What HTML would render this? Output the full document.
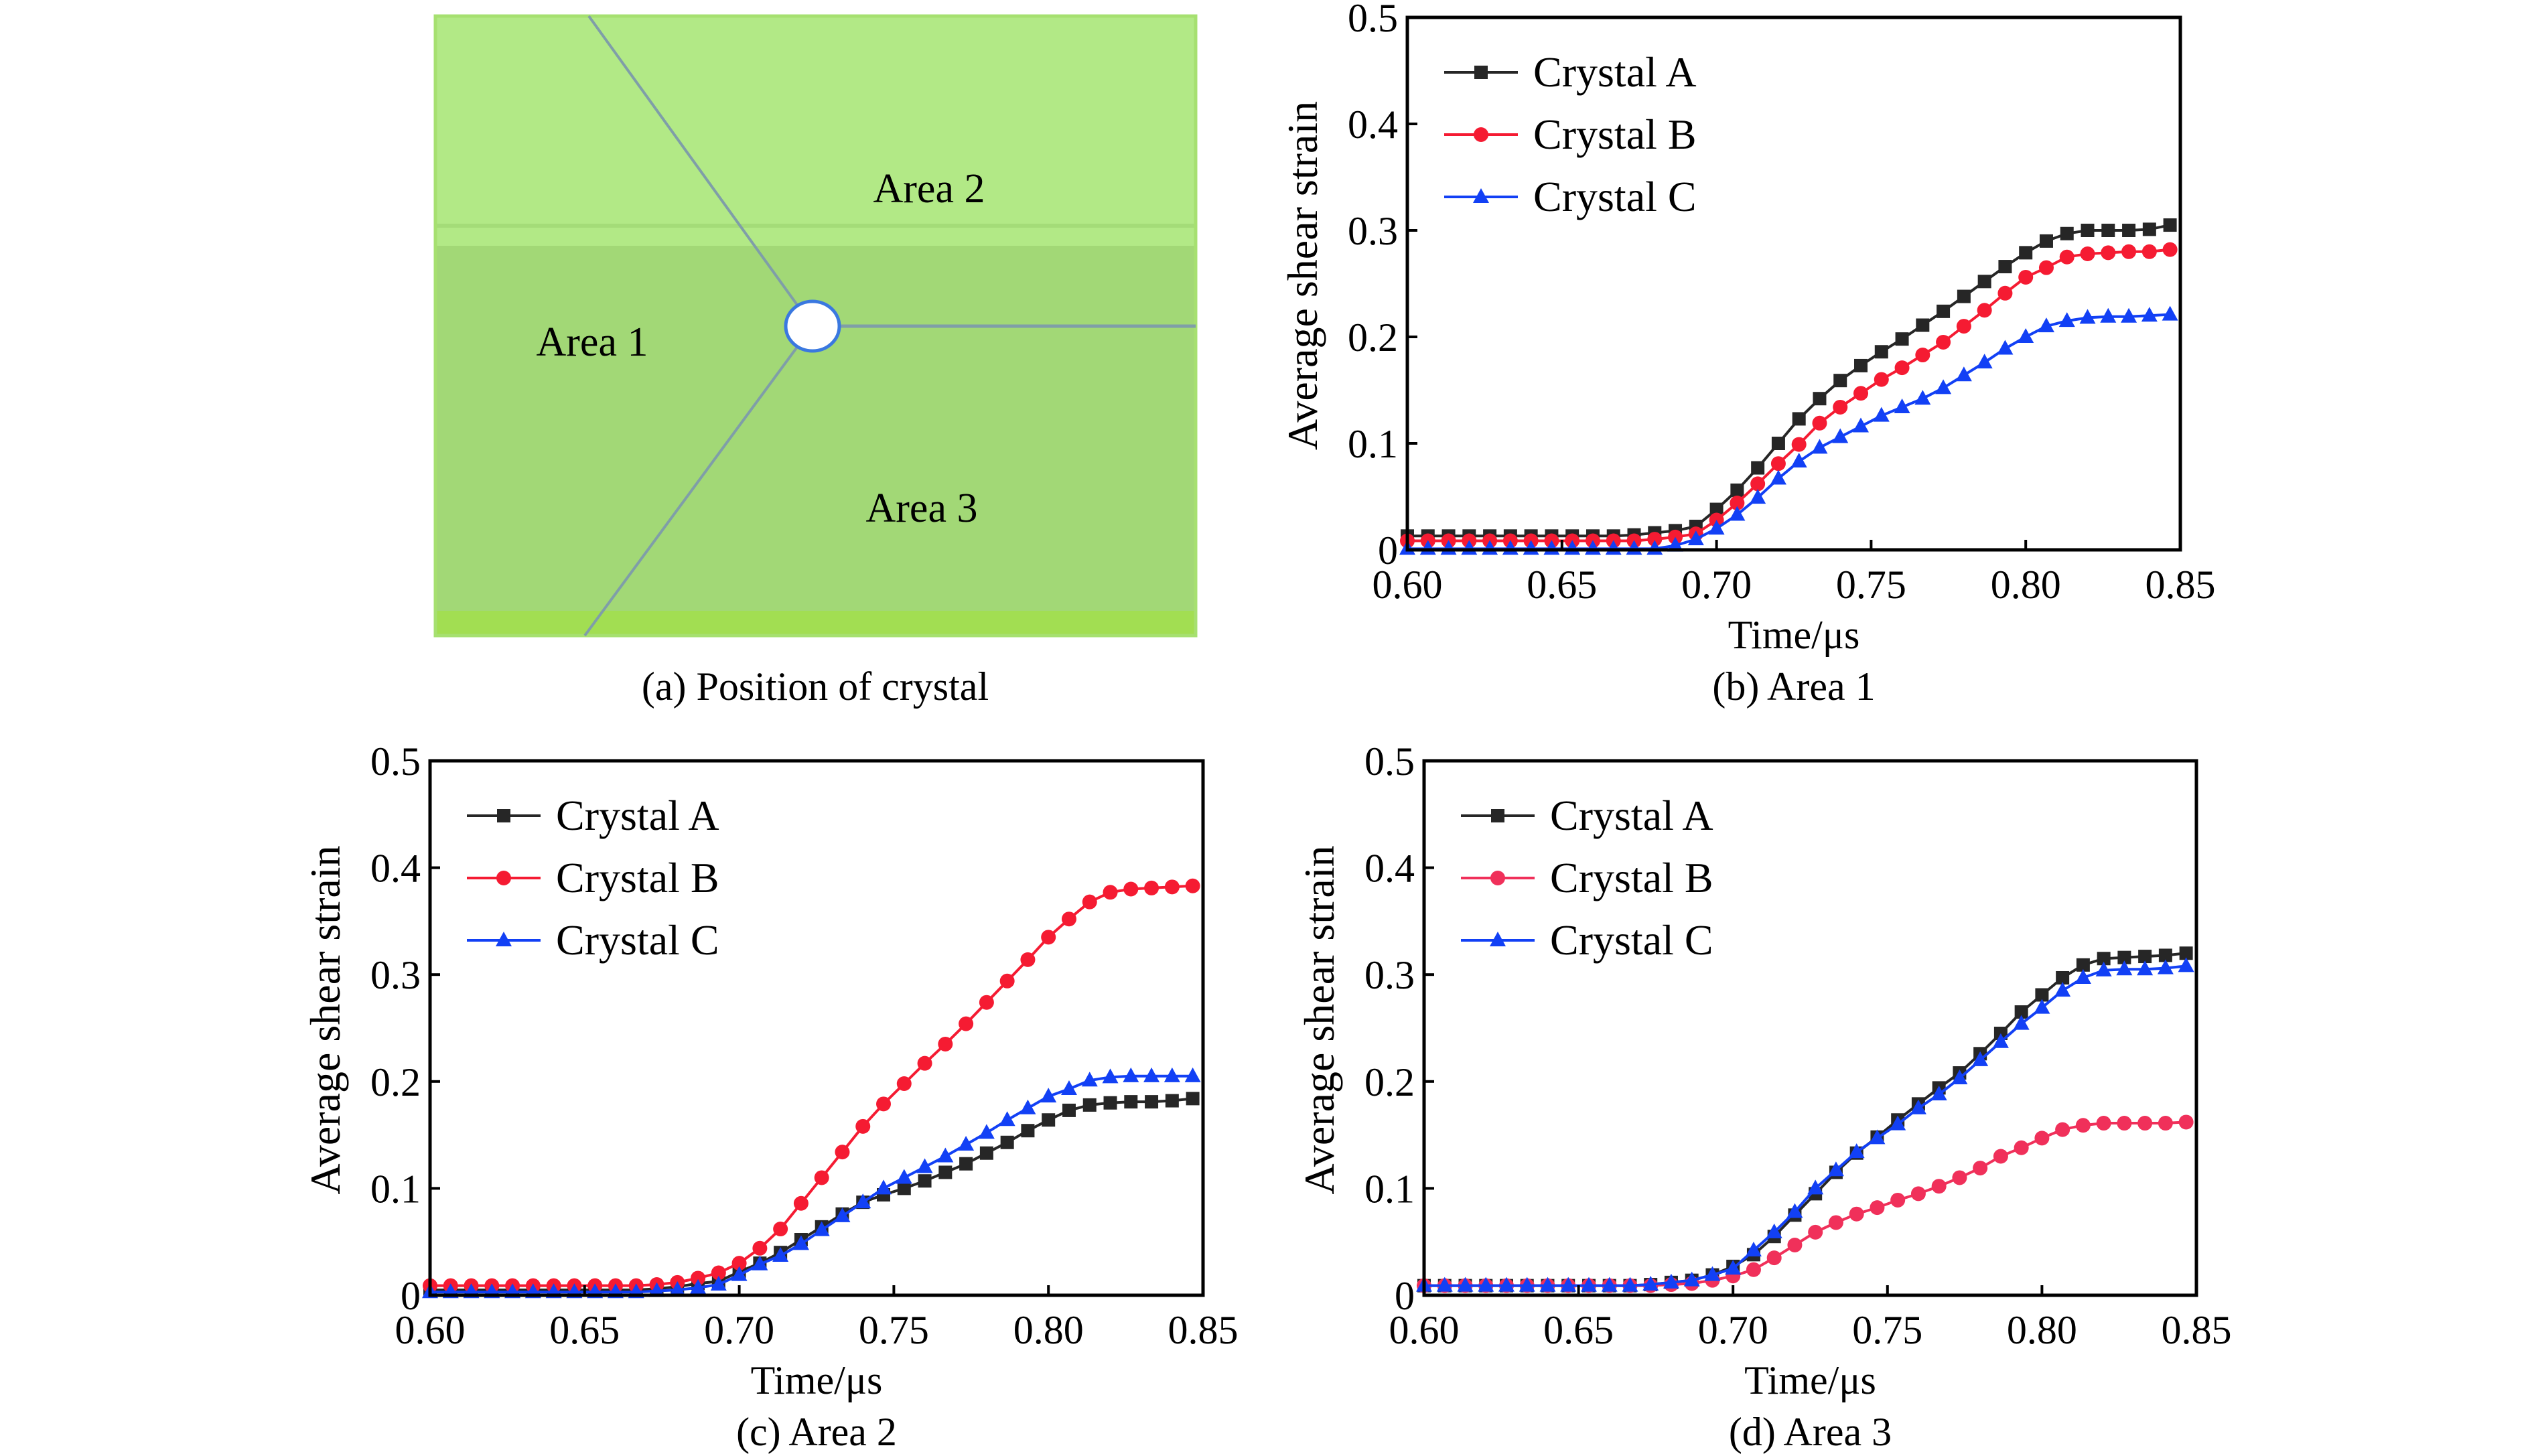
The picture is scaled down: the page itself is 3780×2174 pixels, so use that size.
<!DOCTYPE html>
<html><head><meta charset="utf-8">
<style>
html,body{margin:0;padding:0;background:#fff;}
svg{display:block;font-family:"Liberation Serif","Times New Roman",serif;}
svg text{font-family:"Liberation Serif","Times New Roman",serif;}
</style></head>
<body>
<svg id="fig" width="3780" height="2174" viewBox="0 0 3780 2174" xmlns="http://www.w3.org/2000/svg" font-family="Liberation Serif, serif">
  <g>
    <rect x="650" y="24" width="1135" height="925" fill="#a2d876"/>
    <rect x="650" y="24" width="1135" height="343" fill="#b2e986"/>
    <rect x="650" y="334" width="1135" height="6" fill="#a4dc78"/>
    <rect x="650" y="912" width="1135" height="37" fill="#a2de52"/>
    <rect x="650" y="24" width="1135" height="925" fill="none" stroke="#a6e070" stroke-width="5"/>
    <line x1="879" y1="24" x2="1213" y2="487" stroke="#7f9ea8" stroke-width="4"/>
    <line x1="873" y1="949" x2="1213" y2="487" stroke="#7f9ea8" stroke-width="4"/>
    <line x1="1213" y1="487" x2="1785" y2="487" stroke="#7f9ea8" stroke-width="5"/>
    <ellipse cx="1213" cy="487" rx="40" ry="37" fill="#fff" stroke="#3a78e0" stroke-width="5"/>
    <text x="1387" y="302" font-size="62" text-anchor="middle">Area 2</text>
    <text x="884" y="531" font-size="62" text-anchor="middle">Area 1</text>
    <text x="1376" y="779" font-size="62" text-anchor="middle">Area 3</text>
    <text x="1217" y="1045" font-size="60" text-anchor="middle">(a) Position of crystal</text>
  </g>
</svg>
<script>
const sampleCount = 38;
const xTicks = [0.60, 0.65, 0.70, 0.75, 0.80, 0.85];
const xTickLabels = ["0.60", "0.65", "0.70", "0.75", "0.80", "0.85"];
const yTicks = [0, 0.1, 0.2, 0.3, 0.4, 0.5];
const yTickLabels = ["0", "0.1", "0.2", "0.3", "0.4", "0.5"];
const seriesNames = ["Crystal A", "Crystal B", "Crystal C"];

const area1A = [0.013,0.013,0.013,0.013,0.013,0.013,0.013,0.013,0.013,0.013,0.013,0.014,0.016,0.018,0.022,0.038,0.056,0.077,0.100,0.123,0.142,0.159,0.173,0.186,0.198,0.211,0.224,0.238,0.252,0.266,0.279,0.290,0.297,0.300,0.300,0.300,0.301,0.305];
const area1B = [0.0085,0.0085,0.0085,0.0085,0.0085,0.0085,0.0085,0.0085,0.0085,0.0085,0.0085,0.0085,0.010,0.012,0.015,0.028,0.044,0.062,0.081,0.099,0.119,0.134,0.147,0.160,0.171,0.183,0.195,0.210,0.225,0.241,0.256,0.265,0.275,0.278,0.279,0.280,0.280,0.282];
const area1C = [0.001,0.001,0.001,0.001,0.001,0.001,0.001,0.001,0.001,0.001,0.001,0.001,0.001,0.004,0.010,0.020,0.033,0.049,0.067,0.083,0.096,0.106,0.116,0.126,0.134,0.142,0.152,0.164,0.176,0.189,0.200,0.210,0.215,0.218,0.219,0.219,0.220,0.221];
const area2A = [0.005,0.005,0.005,0.005,0.005,0.005,0.005,0.005,0.005,0.005,0.005,0.006,0.008,0.011,0.013,0.022,0.030,0.040,0.052,0.064,0.076,0.087,0.094,0.100,0.107,0.115,0.123,0.133,0.143,0.154,0.164,0.173,0.178,0.180,0.181,0.181,0.182,0.184];
const area2B = [0.009,0.009,0.009,0.009,0.009,0.009,0.009,0.009,0.009,0.009,0.009,0.010,0.012,0.016,0.021,0.030,0.044,0.062,0.086,0.110,0.134,0.158,0.179,0.198,0.217,0.235,0.254,0.274,0.294,0.314,0.335,0.352,0.368,0.377,0.380,0.381,0.382,0.383];
const area2C = [0.003,0.003,0.003,0.003,0.003,0.003,0.003,0.003,0.003,0.003,0.003,0.004,0.005,0.007,0.010,0.019,0.029,0.037,0.048,0.061,0.074,0.087,0.100,0.110,0.120,0.130,0.141,0.152,0.164,0.175,0.186,0.193,0.201,0.204,0.205,0.205,0.205,0.205];
const area3A = [0.009,0.009,0.009,0.009,0.009,0.009,0.009,0.009,0.009,0.009,0.009,0.010,0.012,0.014,0.019,0.027,0.038,0.055,0.075,0.095,0.115,0.133,0.148,0.164,0.179,0.194,0.208,0.226,0.245,0.265,0.281,0.297,0.309,0.315,0.316,0.317,0.318,0.320];
const area3B = [0.009,0.009,0.009,0.009,0.009,0.009,0.009,0.009,0.009,0.009,0.009,0.009,0.010,0.011,0.014,0.018,0.024,0.035,0.047,0.059,0.068,0.076,0.082,0.089,0.095,0.102,0.110,0.119,0.130,0.138,0.147,0.155,0.159,0.161,0.161,0.161,0.161,0.162];
const area3C = [0.009,0.009,0.009,0.009,0.009,0.009,0.009,0.009,0.009,0.009,0.009,0.010,0.012,0.014,0.019,0.025,0.042,0.059,0.078,0.100,0.117,0.134,0.147,0.160,0.175,0.188,0.203,0.220,0.237,0.254,0.269,0.285,0.297,0.304,0.305,0.305,0.306,0.308];

const NS = "http://www.w3.org/2000/svg";
const svg = document.getElementById('fig');
function mk(tag, attrs, parent){
  const e = document.createElementNS(NS, tag);
  for (const k in attrs) e.setAttribute(k, attrs[k]);
  (parent || svg).appendChild(e);
  return e;
}
const colors = ["#262626", "#f51b32", "#1240f5"];

function marker(g, kind, x, y, color){
  let m;
  if (kind === 0) m = mk('rect', {x:x-10, y:y-10, width:20, height:20, fill:color}, g);
  else if (kind === 1) m = mk('circle', {cx:x, cy:y, r:11, fill:color}, g);
  else m = mk('polygon', {points:`${x},${y-13} ${x-12},${y+9} ${x+12},${y+9}`, fill:color}, g);
  
  
}

function drawPanel(p){
  const g = mk('g', {});
  
  
  const X = v => p.L + (v - 0.6) / 0.25 * (p.R - p.L);
  const Y = v => p.B - v / 0.5 * (p.B - p.T);
  const cols = p.colors || colors;
  p.series.forEach((vals, s) => {
    const sg = mk('g', {}, g);
    
    
    const pts = vals.map((v, i) => X(0.6 + i / 150).toFixed(1) + ',' + Y(v).toFixed(1)).join(' ');
    const pl = mk('polyline', {points: pts, fill: 'none', stroke: cols[s], 'stroke-width': 4}, sg);
    
    
    vals.forEach((v, i) => marker(sg, s, X(0.6 + i / 150), Y(v), cols[s]));
  });
  const fr = mk('rect', {x:p.L, y:p.T, width:p.R-p.L, height:p.B-p.T, fill:'none', stroke:'#000', 'stroke-width':5}, g);
  
  
  xTicks.forEach((t, i) => {
    const tk = mk('line', {x1:X(t), x2:X(t), y1:p.B, y2:p.B-15, stroke:'#000', 'stroke-width':4}, g);
    
    
    const tl = mk('text', {x:X(t), y:p.B+72, 'font-size':60, 'text-anchor':'middle'}, g);
    tl.textContent = xTickLabels[i];
    
    
  });
  yTicks.forEach((t, i) => {
    const tk = mk('line', {x1:p.L, x2:p.L+15, y1:Y(t), y2:Y(t), stroke:'#000', 'stroke-width':4}, g);
    
    
    const tl = mk('text', {x:p.L-14, y:Y(t)+21, 'font-size':60, 'text-anchor':'end'}, g);
    tl.textContent = yTickLabels[i];
    
    
  });
  const xt = mk('text', {x:(p.L+p.R)/2, y:p.B+147, 'font-size':60, 'text-anchor':'middle'}, g);
  xt.textContent = 'Time/\u03bcs';
  
  
  const yt = mk('text', {x:0, y:0, 'font-size':64, 'text-anchor':'middle', transform:`translate(${p.L-135},${(p.T+p.B)/2-12}) rotate(-90)`}, g);
  yt.textContent = 'Average shear strain';
  
  
  const cp = mk('text', {x:(p.L+p.R)/2, y:p.B+224, 'font-size':60, 'text-anchor':'middle'}, g);
  cp.textContent = p.caption;
  
  
  const lg = mk('g', {}, g);
  
  
  seriesNames.forEach((n, s) => {
    const ly = p.T + 82 + s * 93;
    const le = mk('g', {}, lg);
    
    
    mk('line', {x1:p.L+55, x2:p.L+165, y1:ly, y2:ly, stroke:cols[s], 'stroke-width':4}, le);
    marker(le, s, p.L+110, ly, cols[s]);
    const t = mk('text', {x:p.L+188, y:ly+21, 'font-size':64}, le);
    t.textContent = n;
  });
}

drawPanel({name:'panel-b-area-1', L:2101, R:3255, T:26, B:821, caption:'(b) Area 1', series:[area1A, area1B, area1C]});
drawPanel({name:'panel-c-area-2', L:642, R:1796, T:1136, B:1934, caption:'(c) Area 2', series:[area2A, area2B, area2C]});
drawPanel({name:'panel-d-area-3', L:2126, R:3279, T:1136, B:1934, caption:'(d) Area 3', series:[area3A, area3B, area3C], colors:["#262626", "#f0305a", "#1240f5"]});
</script>
</body></html>
